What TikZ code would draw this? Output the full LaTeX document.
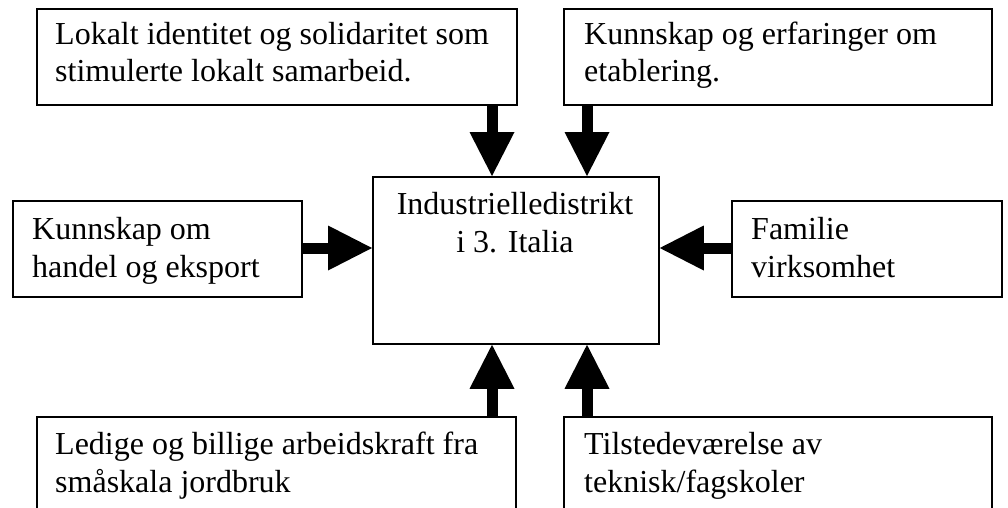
\documentclass[tikz,border=0pt]{standalone}
\usepackage{fontspec}
\setmainfont{Liberation Serif}
\usetikzlibrary{arrows.meta}
\tikzset{
  box/.style={draw, line width=1.8pt, inner sep=0pt, anchor=north west},
  txt/.style={font=\fontsize{32}{37.5}\selectfont, inner sep=0pt, align=left, anchor=base west},
  ctxt/.style={font=\fontsize{32}{37.5}\selectfont, inner sep=0pt, align=center, anchor=base},
  flow/.style={line width=11pt, -{Triangle[width=45pt,length=44pt,line width=0pt]}},
}
\begin{document}
\begin{tikzpicture}[x=1pt,y=-1pt]
\useasboundingbox (0,0) rectangle (1008,508);
\clip (0,0) rectangle (1008,508);
% boxes
\node[box, minimum width=480, minimum height=96] (tl) at (36,8) {};
\node[box, minimum width=428, minimum height=96] (tr) at (563,8) {};
\node[box, minimum width=289, minimum height=96] (le) at (12,200) {};
\node[box, minimum width=270, minimum height=96] (ri) at (731,200) {};
\node[box, minimum width=286, minimum height=167] (c) at (372,176) {};
\node[box, minimum width=479, minimum height=130] (bl) at (36,416) {};
\node[box, minimum width=428, minimum height=130] (br) at (563,416) {};
% texts
\node[txt] (tlt) at (55,82) {Lokalt identitet og solidaritet som\\stimulerte lokalt samarbeid.};
\node[txt] (trt) at (584,82) {Kunnskap og erfaringer om\\etablering.};
\node[txt] (let) at (32,277) {Kunnskap om\\handel og eksport};
\node[txt] (rit) at (751,277) {Familie\\virksomhet};
\node[ctxt] (ct) at (515,252) {Industrielledistrikt\\i 3. Italia};
\node[txt] (blt) at (55,492) {Ledige og billige arbeidskraft fra\\småskala jordbruk};
\node[txt] (brt) at (584,492) {Tilstedeværelse av\\teknisk/fagskoler};
% connectors
\coordinate (ax1) at (492,0);
\coordinate (ax2) at (587,0);
\coordinate (ay) at (0,248);
\draw[flow] (tl.south -| ax1) -- (c.north -| ax1);
\draw[flow] (tr.south -| ax2) -- (c.north -| ax2);
\draw[flow] (le.east |- ay) -- (c.west |- ay);
\draw[flow] (ri.west |- ay) -- (c.east |- ay);
\draw[flow] (bl.north -| ax1) -- (c.south -| ax1);
\draw[flow] (br.north -| ax2) -- (c.south -| ax2);
\end{tikzpicture}
\end{document}
